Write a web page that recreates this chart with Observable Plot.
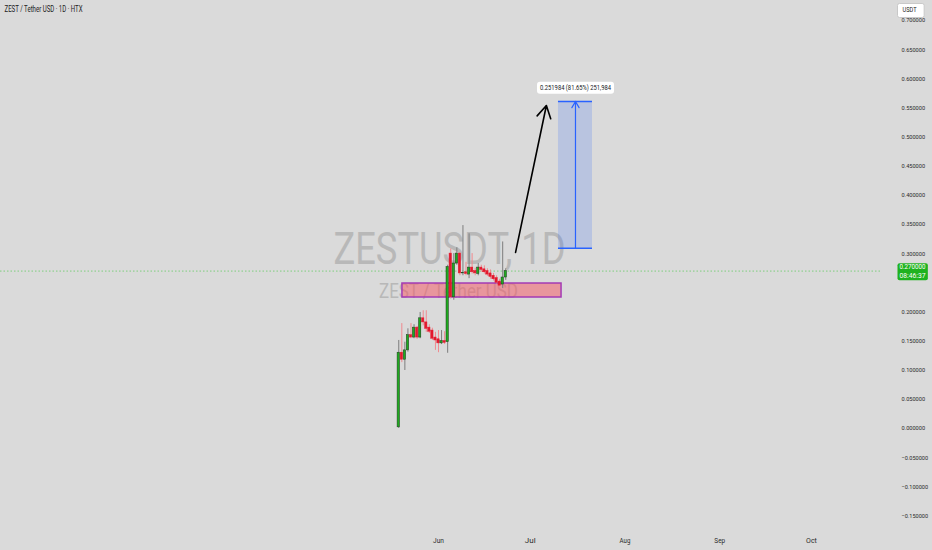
<!DOCTYPE html>
<html><head><meta charset="utf-8">
<script src="https://cdn.jsdelivr.net/npm/d3@7"></script>
<script src="https://cdn.jsdelivr.net/npm/@observablehq/plot@0.6"></script>
<style>
html,body{margin:0;padding:0;background:#dadada;}
#chart{width:932px;height:550px;overflow:hidden;}
</style></head><body><div id="chart"></div>
<script>
// ---- Data ----
const firstCandleDate = "2025-05-19";
const opens  = [0.002,0.130,0.118,0.134,0.160,0.156,0.173,0.156,0.189,0.182,0.173,0.168,0.156,0.153,0.146,0.150,0.148,
                0.300,0.225,0.283,0.300,0.266,0.268,0.264,0.276,0.270,0.265,0.276,0.273,0.270,0.266,0.262,0.258,0.252,0.247,0.259];
const highs  = [0.151,0.180,0.148,0.171,0.180,0.178,0.175,0.199,0.202,0.202,0.178,0.172,0.165,0.168,0.168,0.166,0.280,
                0.308,0.300,0.310,0.302,0.348,0.285,0.334,0.300,0.275,0.283,0.280,0.279,0.274,0.272,0.266,0.262,0.256,0.320,0.274];
const lows   = [0.000,0.113,0.0995,0.131,0.154,0.154,0.153,0.154,0.176,0.165,0.163,0.151,0.134,0.130,0.144,0.144,0.129,
                0.222,0.220,0.280,0.262,0.262,0.262,0.257,0.265,0.262,0.262,0.268,0.265,0.261,0.256,0.253,0.248,0.242,0.240,0.254];
const closes = [0.130,0.118,0.134,0.160,0.156,0.173,0.156,0.189,0.182,0.171,0.166,0.154,0.151,0.146,0.150,0.147,0.277,
                0.225,0.283,0.300,0.266,0.267,0.265,0.276,0.268,0.266,0.276,0.272,0.268,0.264,0.260,0.256,0.250,0.245,0.259,0.270];

const yTicks = [0.70,0.65,0.60,0.55,0.50,0.45,0.40,0.35,0.30,0.20,0.15,0.10,0.05,0.00,-0.05,-0.10,-0.15];
const monthTicks = ["2025-06-01","2025-07-01","2025-08-01","2025-09-01","2025-10-01"];
const lastPrice = [0.27];
const lastPriceText = ["0.270000"];
const countdownText = ["08:46:37"];
const currencyLabel = ["USDT"];
const titleText = ["ZEST / Tether USD · 1D · HTX"];
const watermark = ["ZESTUSDT, 1D"];
const watermarkSub = ["ZEST / Tether USD"];

const supportZone = [{start:"2025-05-20T05:00Z", end:"2025-07-11T06:00Z", low:0.2247, high:0.2487}];
const targetZone  = [{start:"2025-07-10T06:00Z", end:"2025-07-21T09:00Z", low:0.309, high:0.561}];
const targetLabel = ["0.251984 (81.65%) 251,984"];
const moveArrow   = [{fromDate:"2025-06-26T05:00Z", fromPrice:0.302, toDate:"2025-07-06T07:00Z", toPrice:0.554}];

const xDomain = ["2025-01-08T17:17Z","2025-10-23T14:10Z"];
const yDomain = [-0.16123, 0.73413];

// ---- build table ----
const DAY = 864e5;
const t0 = new Date(firstCandleDate + "T00:00:00Z");
const candles = opens.map((o,i)=>({date:new Date(+t0 + i*DAY), open:o, high:highs[i], low:lows[i], close:closes[i], up: closes[i] >= o}));
const parse = s => new Date(s);
const sz = supportZone.map(d=>({x1:parse(d.start), x2:parse(d.end), y1:d.low, y2:d.high}));
const tz = targetZone.map(d=>({x1:parse(d.start), x2:parse(d.end), y1:d.low, y2:d.high, mid:new Date((+parse(d.start) + +parse(d.end))/2)}));
const arr = moveArrow.map(d=>({x1:parse(d.fromDate), y1:d.fromPrice, x2:parse(d.toDate), y2:d.toPrice}));

const GREEN = "#1faa1f", RED = "#e3192e", BLUE = "#2962ff";
const FONT = "Roboto, 'Noto Sans', sans-serif";

const plot = Plot.plot({
  width: 932, height: 550,
  marginLeft: 0, marginRight: 52, marginTop: 0, marginBottom: 28,
  style: {background: "#dadada", fontFamily: FONT, overflow: "visible"},
  x: {type: "utc", domain: xDomain.map(parse), range: [0, 880]},
  y: {domain: yDomain},
  color: {type: "identity"},
  marks: [
    // watermark
    Plot.text(watermark, {frameAnchor: "middle", dx: 9, dy: -12, fontSize: 44, fill: "#b8b8b8", className: "wm1"}),
    Plot.text(watermarkSub, {frameAnchor: "middle", dx: 8, dy: 30, fontSize: 20, fill: "#b8b8b8", className: "wm2"}),
    // last price dotted line
    Plot.ruleY(lastPrice, {stroke: "#7fcf7f", strokeDasharray: "1.5,2", strokeWidth: 1}),
    // support zone
    Plot.rect(sz, {x1:"x1", x2:"x2", y1:"y1", y2:"y2", fill: "#f65260", fillOpacity: 0.5, stroke: "#a43ab4", strokeWidth: 1.5}),
    // target zone
    Plot.rect(tz, {x1:"x1", x2:"x2", y1:"y1", y2:"y2", fill: BLUE, fillOpacity: 0.18}),
    Plot.ruleY(tz, {x1:"x1", x2:"x2", y:"y1", stroke: BLUE, strokeWidth: 1.5}),
    Plot.ruleY(tz, {x1:"x1", x2:"x2", y:"y2", stroke: BLUE, strokeWidth: 1.5}),
    Plot.arrow(tz, {x1:"mid", x2:"mid", y1:"y1", y2:"y2", stroke: BLUE, strokeWidth: 1.2, headLength: 9}),
    // candles
    Plot.ruleX(candles, {x:"date", y1:"low", y2:"high", stroke: d => d.up ? "#7d7d7d" : "#f08a8f", strokeWidth: 1}),
    Plot.rect(candles, {x1: d => new Date(+d.date - 0.38*DAY), x2: d => new Date(+d.date + 0.38*DAY), y1:"open", y2:"close",
      fill: d => d.up ? GREEN : RED, stroke: d => d.up ? "#1e3a1e" : RED, strokeWidth: 0.5}),
    // black arrow
    Plot.arrow(arr, {x1:"x1", y1:"y1", x2:"x2", y2:"y2", stroke: "#000", strokeWidth: 1.6, headLength: 13}),
    // target label
    Plot.text(targetLabel, {x: () => tz[0].mid, y: () => tz[0].y2, dy: -14, fontSize: 7, fill: "#131722", className: "tlabel"}),
    // axes
    Plot.axisY(yTicks, {anchor: "right", tickSize: 0, tickPadding: 21, tickFormat: d3.format(".6f"), fontSize: 6.2, fill: "#2a2a2a", textAnchor: "start"}),
    Plot.axisX(monthTicks.map(parse), {tickSize: 0, tickPadding: 16, tickFormat: d3.utcFormat("%b"), fontSize: 7, fill: "#2a2a2a"}),
    // title
    Plot.text(titleText, {frameAnchor: "top-left", dx: 4, dy: 5, fontSize: 8.5, fill: "#222", textAnchor: "start", className: "ttl"}),
    // price tag
    Plot.text(lastPriceText, {y: () => lastPrice[0], frameAnchor: "right", dx: 19, dy: -4, textAnchor: "start", fontSize: 6.5, fill: "#fff", className: "ptag"}),
    Plot.text(countdownText, {y: () => lastPrice[0], frameAnchor: "right", dx: 19, dy: 5, textAnchor: "start", fontSize: 6.5, fill: "#fff", className: "ptag2"}),
    Plot.text(currencyLabel, {frameAnchor: "top-right", dx: 22, dy: 7, textAnchor: "start", fontSize: 7, fill: "#222", className: "utag"})
  ]
});
document.getElementById("chart").appendChild(plot);

// condensed look: fit text widths
function fit(sel, lenFn) {
  plot.querySelectorAll(sel).forEach(t => {
    t.setAttribute("textLength", lenFn(t.textContent));
    t.setAttribute("lengthAdjust", "spacingAndGlyphs");
  });
}
fit(".wm1 text", () => 232);
fit(".wm2 text", () => 139);
fit(".ttl text", () => 78);
fit(".tlabel text", () => 71);
fit(".ptag text, .ptag2 text", () => 26);
fit(".utag text", () => 14);
fit('[aria-label="y-axis tick label"] text', s => s.length * 2.95);
fit('[aria-label="x-axis tick label"] text', s => s.length * 3.6);

function boxBehind(classes, {padL=3, padR=3, padT=2, padB=2, fill, stroke="none", rx=2}) {
  const base = plot.getBoundingClientRect();
  let x0=Infinity, y0=Infinity, x1=-Infinity, y1=-Infinity;
  classes.forEach(c => plot.querySelectorAll(`.${c} text`).forEach(t => {
    const b = t.getBoundingClientRect();
    x0 = Math.min(x0, b.left); y0 = Math.min(y0, b.top); x1 = Math.max(x1, b.right); y1 = Math.max(y1, b.bottom);
  }));
  const r = document.createElementNS("http://www.w3.org/2000/svg", "rect");
  r.setAttribute("x", x0 - base.left - padL);
  r.setAttribute("y", y0 - base.top - padT);
  r.setAttribute("width", x1 - x0 + padL + padR);
  r.setAttribute("height", y1 - y0 + padT + padB);
  r.setAttribute("rx", rx);
  r.setAttribute("fill", fill);
  r.setAttribute("stroke", stroke);
  const first = plot.querySelector(`.${classes[0]}`);
  first.parentNode.insertBefore(r, first);
}
boxBehind(["tlabel"], {padL: 3, padR: 3, padT: 2, padB: 2, fill: "#fff", rx: 3});
boxBehind(["ptag","ptag2"], {padL: 2, padR: 2, padT: 0, padB: 0, fill: "#1fb21f", rx: 2});
boxBehind(["utag"], {padL: 5, padR: 7, padT: 3, padB: 3, fill: "#fff", stroke: "#c8c8c8", rx: 2});
</script></body></html>
